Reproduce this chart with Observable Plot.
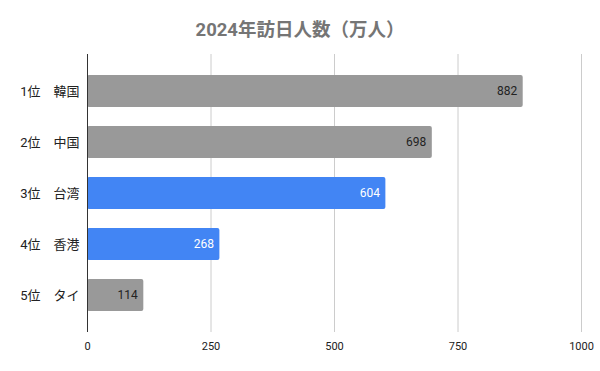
<!DOCTYPE html>
<html><head><meta charset="utf-8">
<script src="https://cdn.jsdelivr.net/npm/d3@7"></script>
<script src="https://cdn.jsdelivr.net/npm/@observablehq/plot@0.6"></script>
<style>
body{margin:0;background:#fff;font-family:Roboto,"Noto Sans CJK JP",sans-serif;position:relative;width:600px;height:371px;overflow:hidden;}
#title{position:absolute;left:0;top:10px;width:600px;height:40px;line-height:40px;text-align:center;font-weight:bold;font-size:18.5px;color:#757575;}
#chart{position:absolute;left:0;top:40px;width:600px;}
#chart svg{display:block;}
</style></head>
<body>
<div id="title"></div>
<div id="chart"></div>
<script>
const title = "2024年訪日人数（万人）";
const categories = ["1位　韓国", "2位　中国", "3位　台湾", "4位　香港", "5位　タイ"];
const values = [882, 698, 604, 268, 114];
const highlight = [false, false, true, true, false];
const xTicks = [0, 250, 500, 750, 1000];

const data = categories.map((c, i) => ({cat: c, v: values[i], hi: highlight[i]}));
document.getElementById("title").textContent = title;

const chart = Plot.plot({
  width: 600,
  height: 331,
  marginLeft: 87,
  marginRight: 19,
  marginTop: 14,
  marginBottom: 39,
  style: {fontFamily: 'Roboto,"Noto Sans CJK JP",sans-serif', fontSize: "11px", color: "#222", background: "#fff"},
  x: {domain: [0, 1000], ticks: xTicks, tickSize: 0, tickPadding: 10, label: null, grid: false},
  y: {domain: categories, padding: 0.365, label: null, tickSize: 0, tickPadding: 8},
  marks: [
    Plot.ruleX(xTicks.filter(d => d > 0), {stroke: "#cccccc", strokeOpacity: 1}),
    Plot.barX(data, {x: "v", y: "cat", fill: d => d.hi ? "#4285f4" : "#999999", rx: 2}),
    Plot.ruleX([0], {stroke: "#333", strokeWidth: 1}),
    Plot.text(data, {x: "v", y: "cat", text: d => String(d.v), textAnchor: "end", dx: -6, fontSize: 12, fill: d => d.hi ? "#ffffff" : "#222222"}),
    Plot.axisY({tickSize: 0, tickPadding: 8, fontSize: 13, label: null}),
    Plot.axisX({ticks: xTicks, tickFormat: d => String(d), tickSize: 0, tickPadding: 10, label: null})
  ]
});
document.getElementById("chart").appendChild(chart);
</script>
</body></html>
